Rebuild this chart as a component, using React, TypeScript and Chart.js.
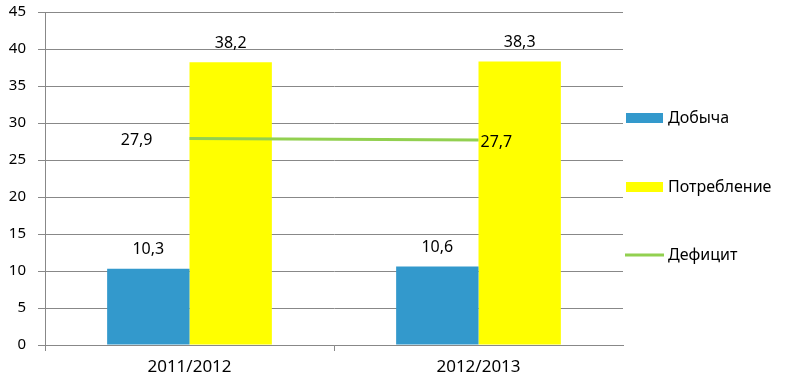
import React, { useEffect, useRef } from "react";
import { Chart, registerables } from "chart.js";

Chart.register(...registerables);

const categories = ["2011/2012", "2012/2013"];
const dobycha = [10.3, 10.6];
const potreblenie = [38.2, 38.3];
const deficit = [27.9, 27.7];
const seriesNames = ["Добыча", "Потребление", "Дефицит"];
const colors = ["#3399CC", "#FFFF00", "#92D050"];

const fmt = (v: number) => v.toFixed(1).replace(".", ",");
const FONT = "'Noto Sans', sans-serif";

const labelsPlugin = {
  id: "customLabels",
  afterDatasetsDraw(chart: any) {
    const ctx = chart.ctx;
    ctx.save();
    ctx.fillStyle = "#000";
    ctx.font = `16px ${FONT}`;
    ctx.textBaseline = "middle";
    [0, 1].forEach((di) => {
      const meta = chart.getDatasetMeta(di);
      meta.data.forEach((el: any, i: number) => {
        const v = chart.data.datasets[di].data[i];
        ctx.textAlign = "center";
        ctx.fillText(fmt(v), el.x, el.y - 19);
      });
    });
    const lm = chart.getDatasetMeta(2);
    lm.data.forEach((el: any, i: number) => {
      const v = chart.data.datasets[2].data[i];
      if (i === 0) {
        ctx.textAlign = "right";
        ctx.fillText(fmt(v), el.x - 37, el.y + 2);
      } else {
        ctx.textAlign = "left";
        ctx.fillText(fmt(v), el.x + 2, el.y + 2);
      }
    });
    const ys = [118, 187, 255];
    const x0 = chart.chartArea.right + 3;
    seriesNames.forEach((name, i) => {
      const y = ys[i];
      if (i < 2) {
        ctx.fillStyle = colors[i];
        ctx.fillRect(x0, y - 5, 37, 10);
      } else {
        ctx.strokeStyle = colors[i];
        ctx.lineWidth = 3;
        ctx.beginPath();
        ctx.moveTo(x0 - 1, y);
        ctx.lineTo(x0 + 38, y);
        ctx.stroke();
      }
      ctx.fillStyle = "#000";
      ctx.textAlign = "left";
      ctx.font = `16px ${FONT}`;
      ctx.fillText(name, x0 + 42, y);
    });
    ctx.restore();
  },
};

export default function App() {
  const ref = useRef<HTMLCanvasElement>(null);
  useEffect(() => {
    document.body.style.margin = "0";
    const chart = new Chart(ref.current!, {
      type: "bar",
      data: {
        labels: categories,
        datasets: [
          {
            type: "bar",
            label: seriesNames[0],
            data: dobycha,
            backgroundColor: colors[0],
            barPercentage: 1,
            categoryPercentage: 0.57,
            order: 2,
          },
          {
            type: "bar",
            label: seriesNames[1],
            data: potreblenie,
            backgroundColor: colors[1],
            barPercentage: 1,
            categoryPercentage: 0.57,
            order: 2,
          },
          {
            type: "line",
            label: seriesNames[2],
            data: deficit,
            borderColor: colors[2],
            borderWidth: 3,
            pointRadius: 0,
            fill: false,
            order: 1,
          } as any,
        ],
      },
      options: {
        animation: false,
        responsive: false,
        layout: { padding: { top: 12, right: 177, left: 0, bottom: 0 } },
        plugins: { legend: { display: false }, tooltip: { enabled: false } },
        scales: {
          x: {
            offset: true,
            grid: {
              offset: true,
              drawOnChartArea: false,
              tickLength: 6,
              color: (c: any) => (c.index === 0 || c.index === 1 ? "#888" : "rgba(0,0,0,0)"),
            },
            border: { color: "#888" },
            ticks: { color: "#000", font: { family: FONT, size: 17 }, padding: 6 },
            afterFit(scale: any) {
              scale.height = 39;
            },
          },
          y: {
            min: 0,
            max: 45,
            ticks: { stepSize: 5, color: "#000", font: { family: FONT, size: 15 }, padding: 12 },
            grid: { color: "#888", tickLength: 7 },
            border: { color: "#888" },
            afterFit(scale: any) {
              scale.width = 45;
              scale.paddingTop = 0;
              scale.paddingBottom = 0;
            },
          },
        },
      },
      plugins: [labelsPlugin],
    });
    return () => chart.destroy();
  }, []);
  return (
    <div style={{ width: 800, height: 384 }}>
      <canvas ref={ref} width={800} height={384} />
    </div>
  );
}
